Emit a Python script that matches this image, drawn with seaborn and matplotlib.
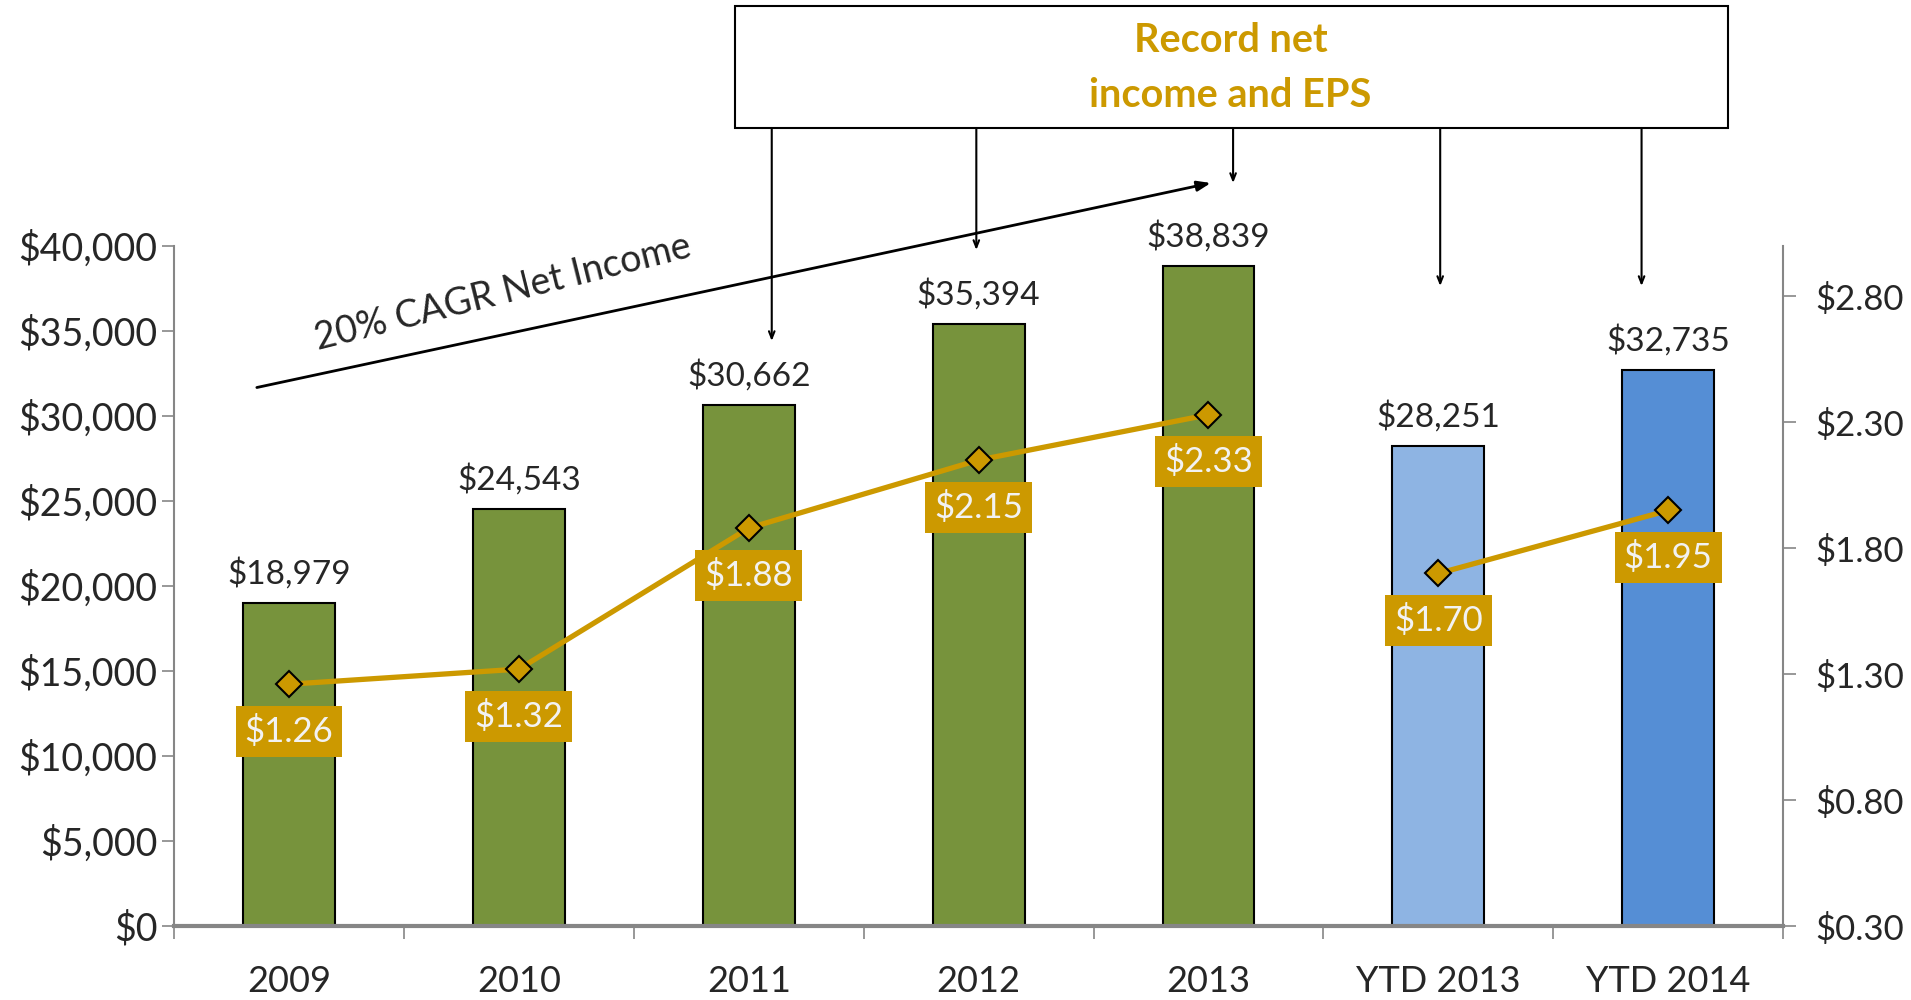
import matplotlib
matplotlib.use("Agg")
import matplotlib.pyplot as plt
import numpy as np
import pandas as pd
import seaborn as sns
from matplotlib.patches import Rectangle

# Datos del gráfico
periods = ["2009", "2010", "2011", "2012", "2013", "YTD 2013", "YTD 2014"]
net_income = [18979, 24543, 30662, 35394, 38839, 28251, 32735]
eps = [1.26, 1.32, 1.88, 2.15, 2.33, 1.70, 1.95]
series = ["Annual"] * 5 + ["YTD"] * 2
bar_colors = ["#77933C"] * 5 + ["#8EB4E3", "#558ED5"]
left_ticks = list(range(0, 40001, 5000))
right_ticks = [0.30, 0.80, 1.30, 1.80, 2.30, 2.80]

df = pd.DataFrame({
    "period": periods,
    "net_income": net_income,
    "eps": eps,
    "series": series,
    "pos": np.arange(len(periods)),
})

GOLD = "#CC9900"
GRAY = "#868686"

sns.set_style("white")
plt.rcParams["font.family"] = ["Lato", "DejaVu Sans"]

fig = plt.figure(figsize=(19.11, 10), dpi=100)
ax = fig.add_axes([0.0911, 0.074, 0.842, 0.68])

# Barras de utilidad neta
sns.barplot(data=df, x="period", y="net_income", hue="period", palette=bar_colors,
            saturation=1, width=0.4, edgecolor="black", linewidth=1.5,
            legend=False, ax=ax)

# Línea de EPS en eje secundario (cortada entre anual y YTD)
ax2 = ax.twinx()
sns.lineplot(data=df, x="pos", y="eps", units="series", estimator=None,
             color=GOLD, lw=3.8, marker="D", markersize=13,
             markerfacecolor=GOLD, markeredgecolor="black", markeredgewidth=1.5,
             ax=ax2)

ax.set_xlim(-0.5, 6.5)
ax2.set_xlim(-0.5, 6.5)
ax.set_ylim(0, 40000)
ax2.set_ylim(0.3, 3.0)

ax.set_yticks(left_ticks)
ax.set_yticklabels([f"${v:,.0f}" for v in left_ticks])
ax2.set_yticks(right_ticks)
ax2.set_yticklabels([f"${v:.2f}" for v in right_ticks])
ax.set_xticks(range(len(periods)))
ax.set_xticklabels(periods)
ax.set_xticks(np.arange(-0.5, len(periods), 1), minor=True)

ax.set_xlabel("")
ax.set_ylabel("")
ax2.set_xlabel("")
ax2.set_ylabel("")

for s in ["top", "right"]:
    ax.spines[s].set_visible(False)
for s in ["top", "left", "bottom"]:
    ax2.spines[s].set_visible(False)
ax.spines["left"].set_color(GRAY)
ax.spines["left"].set_linewidth(1.5)
ax.spines["bottom"].set_color(GRAY)
ax.spines["bottom"].set_linewidth(3)
ax2.spines["right"].set_color(GRAY)
ax2.spines["right"].set_linewidth(1.5)

ax.tick_params(axis="y", left=True, direction="out", length=9, width=1.2,
               color=GRAY, labelsize=27, pad=3)
ax2.tick_params(axis="y", right=True, direction="out", length=9, width=1.2,
                color=GRAY, labelsize=25, pad=14)
ax.tick_params(axis="x", which="major", length=0, labelsize=26, pad=28)
ax.tick_params(axis="x", which="minor", bottom=True, direction="out", length=9,
               width=1.2, color=GRAY)

# Etiquetas de valores
for i, v in enumerate(net_income):
    ax.annotate(f"${v:,}", (i, v), xytext=(0, 14), textcoords="offset points",
                ha="center", va="baseline", fontsize=24)

for i, v in enumerate(eps):
    ax2.annotate(f"${v:.2f}", (i, v), xytext=(0, -34), textcoords="offset points",
                 ha="center", va="center", color="#F2F2F2", fontsize=25,
                 bbox=dict(boxstyle="square,pad=0.26", fc=GOLD, ec="none"))

# Cuadro "Record net income and EPS" con flechas
fig.patches.append(Rectangle((0.3846, 0.872), 0.5196, 0.122, transform=fig.transFigure,
                             fill=False, ec="black", lw=1.5))
fig.text(0.644, 0.932, "Record net\nincome and EPS", ha="center", va="center",
         color=GOLD, fontsize=28.5, weight="bold", linespacing=1.6)

box_bottom = 46941
arrow_targets = [(2.10, 34412), (2.99, 39765), (4.107, 43706), (5.008, 37647), (5.884, 37647)]
for x, y in arrow_targets:
    ax.annotate("", xy=(x, y), xytext=(x, box_bottom), annotation_clip=False,
                arrowprops=dict(arrowstyle="->,head_length=0.5,head_width=0.2",
                                lw=1.5, color="black", shrinkA=0, shrinkB=0))

# Flecha de CAGR
ax.annotate("", xy=(4.01, 43706), xytext=(-0.14, 31676), annotation_clip=False,
            arrowprops=dict(arrowstyle="-|>,head_length=0.8,head_width=0.3",
                            lw=2, color="black", shrinkA=0, shrinkB=0))
ax.text(0.93, 37265, "20% CAGR Net Income", rotation=14, ha="center", va="center",
        fontsize=27, rotation_mode="anchor")

fig.savefig("out.png", dpi=100)
